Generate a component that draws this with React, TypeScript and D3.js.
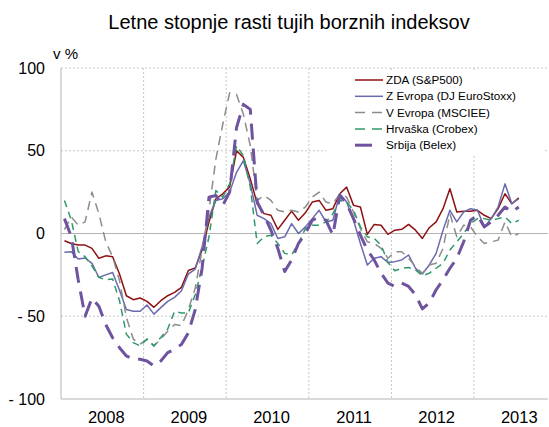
import React from "react";
import * as d3 from "d3";

// monthly data, Jan 2008 .. Jul 2013 (annual growth in %)
const years = ["2008", "2009", "2010", "2011", "2012", "2013"];
const yTicks = [100, 50, 0, -50, -100];

const zda = [
  -4.4, -6, -7, -7, -9, -15, -13.5, -14, -24.5, -37.6, -40, -39,
  -41, -44.6, -40.6, -37.6, -35.6, -32.5, -22.4, -20.8, -10, 7, 21, 24,
  28, 50, 46, 33, 18, 12, 11, 2.5, 8, 13.5, 8, 12.5,
  19, 20, 14, 15, 24, 28, 17, 16, -0.5, 5.5, 5, -0.5,
  2, 2.5, 5.5, 2, -3, 3.5, 7, 15, 27, 13, 13.5, 13.5,
  14, 11, 9, 15, 24, 18, 21.5,
];
const zEvropa = [
  -11.3, -11, -15.4, -14.8, -18, -26.6, -25, -23.6, -34.3, -45.9, -47, -47,
  -43.2, -48.7, -44.8, -41, -38.6, -34.6, -24.5, -21.5, -8, 10, 20, 21,
  25, 37, 44, 30, 11, 9, 6, -3, -2, 6, 0, 4,
  9, 14, 7, 8, 24, 19, 8, -6, -19, -15, -14, -17.5,
  -17, -16, -13, -21, -24.5, -19, -12, 2, 14, 7, 13, 15,
  14, 4, 9, 16, 30, 18, 21,
];
const vEvropa = [
  2.4, 10, 5, 7, 25, 12, -5, -14, -28.5, -50.7, -63.8, -66.9,
  -63.8, -67.9, -63.8, -59, -55, -55.7, -46, -33, -10, 14, 45, 66,
  85, 84, 72, 53, 20, 23, 20, 14, 13, 14, 13, 16,
  22, 25, 19, 18, 24, 22, 13, 3, -5, -6, -9, -15,
  -11, -11, -15, -20, -24, -19, -18, -9, 12, -2, 5, 4,
  -2, -6, -5, -4, 7, -2, 0,
];
const hrvaska = [
  20, 8, -11, -14, -19.6, -26.5, -28, -27.5, -40.6, -60.8, -65.9, -67.9,
  -63.8, -67.9, -62.8, -57.7, -47, -48, -48, -37, -20.5, -2, 26, 22,
  30, 53, 47, 28, -6, -2, -1, -6, -12, -13, -6, 3,
  5, 5, 7, 12, 20, 19, 14, 4, -2, -3, -7, -17.5,
  -22.5, -21, -20.5, -22, -25.5, -24, -21, -18, -10, -5, 0, 6,
  9, 9, 8, 9, 10, 6, 8,
];
const srbija = [
  9, -2, -28, -50, -39, -44, -55, -63, -69, -74, -76, -76,
  -77, -80, -77, -72, -70, -67, -60, -46, -21, 22, 23, 17,
  25, 64, 78, 75, 19, 11, 2, -9, -23, -16, -6, 0,
  8, 10, 8, -1, 23, 18, 9, -1, -10, -16, -24, -30,
  -32, -30, -32, -37, -45.6, -42, -34, -28, -21, -15, -5, 8,
  11, 4, 7, 11, 16, 13, 16,
];

const series = [
  { name: "ZDA (S&P500)", values: zda, color: "#8e1010", width: 1.5, dash: null },
  { name: "Z Evropa (DJ EuroStoxx)", values: zEvropa, color: "#6a6aae", width: 1.5, dash: null },
  { name: "V Evropa (MSCIEE)", values: vEvropa, color: "#8c8c8c", width: 1.5, dash: "9,6" },
  { name: "Hrvaška (Crobex)", values: hrvaska, color: "#2f9a68", width: 1.5, dash: "7,5" },
  { name: "Srbija (Belex)", values: srbija, color: "#6f539f", width: 3, dash: "16,9" },
];

const W = 549;
const H = 427;
const left = 61;
const right = 548;
const top = 68;
const bottom = 399;
const font = "'Liberation Sans', Arial, sans-serif";

export default function App() {
  // x in months from Jan 2008, axis ends late 2013
  const x = d3.scaleLinear().domain([0, 70.75]).range([left, right]);
  const y = d3.scaleLinear().domain([-100, 100]).range([bottom, top]);

  const line = d3
    .line<number>()
    .x((_, i) => x(i + 0.5))
    .y((d) => y(d));

  const gridX = [12, 24, 36, 48, 60];

  return (
    <svg
      width={W}
      height={H}
      style={{ position: "absolute", left: 0, top: 0, background: "#fff" }}
      fontFamily={font}
    >
      <text x={289} y={29} textAnchor="middle" fontSize={20} fill="#000">
        Letne stopnje rasti tujih borznih indeksov
      </text>
      <text x={53} y={59} fontSize={15} fill="#000">
        v %
      </text>

      {/* grid */}
      {yTicks
        .filter((t) => t !== 0 && t !== -100)
        .map((t) => (
          <line
            key={t}
            x1={left}
            x2={right}
            y1={y(t)}
            y2={y(t)}
            stroke="#c8c8c8"
            strokeDasharray="2,2"
          />
        ))}
      {gridX.map((m) => (
        <line
          key={m}
          x1={x(m)}
          x2={x(m)}
          y1={top}
          y2={bottom}
          stroke="#c8c8c8"
          strokeDasharray="2,2"
        />
      ))}

      {/* axes */}
      <line x1={left} x2={left} y1={top} y2={bottom} stroke="#b4b4b4" />
      <line x1={left} x2={right} y1={bottom} y2={bottom} stroke="#b4b4b4" />
      <line x1={left} x2={right} y1={y(0)} y2={y(0)} stroke="#b4b4b4" />

      {yTicks.map((t) => (
        <text
          key={t}
          x={45}
          y={y(t)}
          dy="0.35em"
          textAnchor="end"
          fontSize={16}
          fill="#000"
        >
          {t < 0 ? `- ${-t}` : t}
        </text>
      ))}
      {years.map((yr, k) => (
        <text
          key={yr}
          x={x(k * 12 + 6) + 4}
          y={423}
          textAnchor="middle"
          fontSize={16.5}
          fill="#000"
        >
          {yr}
        </text>
      ))}

      {/* legend box */}
      <rect x={326} y={70} width={217} height={84} fill="#fff" />

      {series.map((s) => (
        <path
          key={s.name}
          d={line(s.values) || ""}
          fill="none"
          stroke={s.color}
          strokeWidth={s.width}
          strokeDasharray={s.dash || undefined}
          strokeLinejoin="round"
        />
      ))}

      {series.map((s, k) => {
        const ly = 80 + k * 16.3;
        return (
          <g key={s.name}>
            {k < 4 ? (
              <line
                x1={355}
                x2={383}
                y1={ly}
                y2={ly}
                stroke={s.color}
                strokeWidth={s.width}
                strokeDasharray={s.dash ? "10,7" : undefined}
              />
            ) : (
              <line x1={355} x2={372} y1={ly} y2={ly} stroke={s.color} strokeWidth={3} />
            )}
            <text x={386} y={ly} dy="0.35em" fontSize={11.7} fill="#000">
              {s.name}
            </text>
          </g>
        );
      })}
    </svg>
  );
}
